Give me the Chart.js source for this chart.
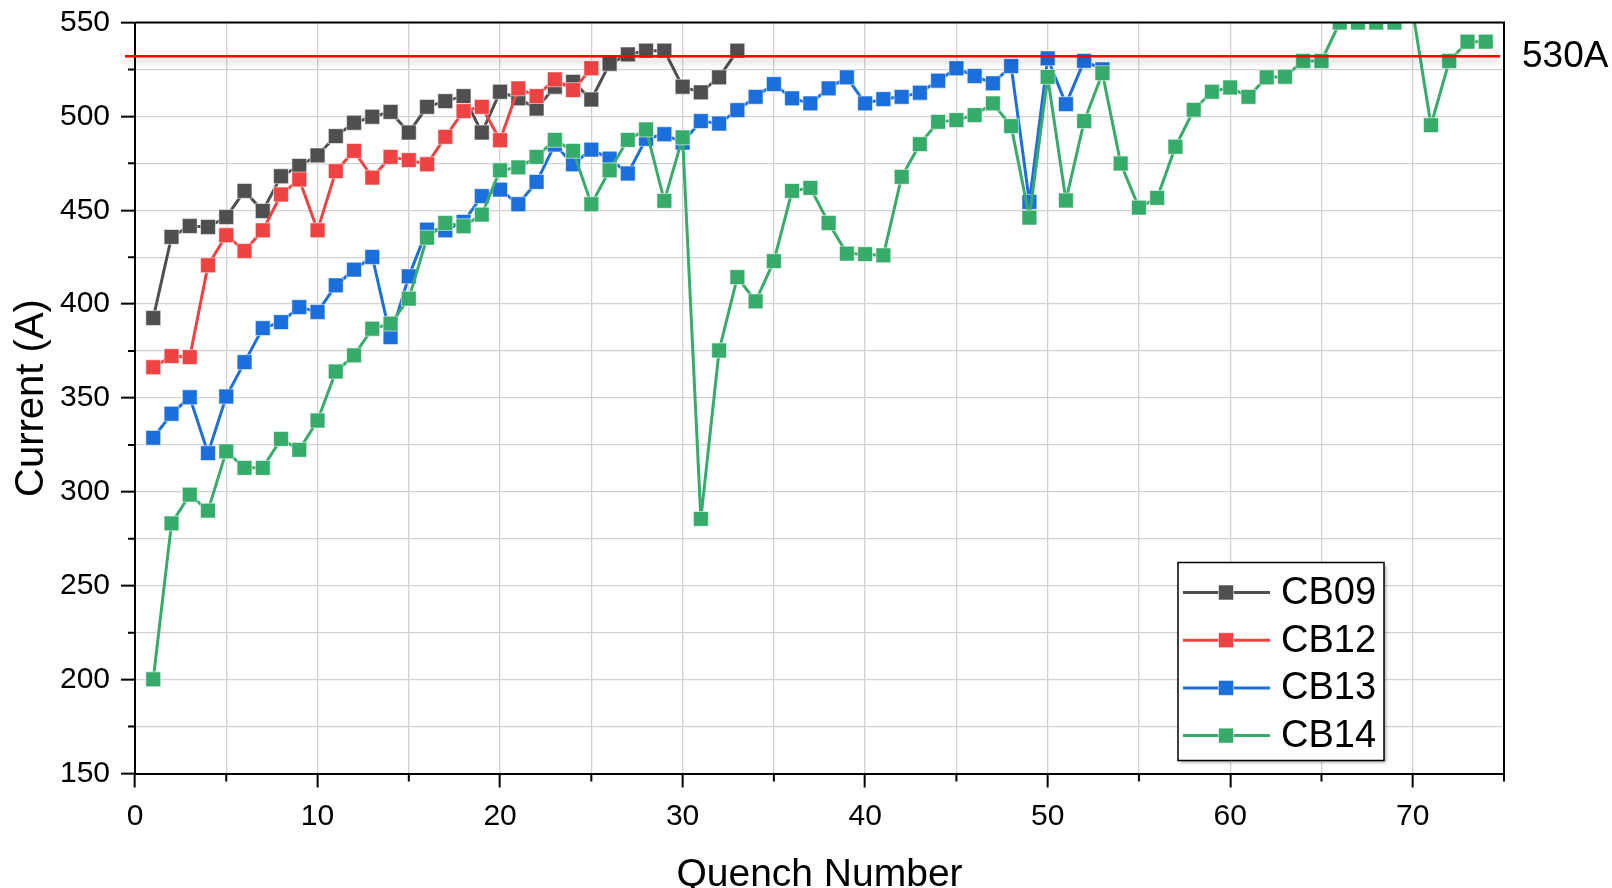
<!DOCTYPE html>
<html><head><meta charset="utf-8">
<script src="https://cdn.jsdelivr.net/npm/chart.js@4.4.0/dist/chart.umd.min.js"></script>
<style>html,body{margin:0;padding:0;background:#fff;overflow:hidden}canvas{display:block}</style>
</head><body>
<canvas id="c" width="1612" height="888"></canvas>
<script>
// ---- data ----
const seriesNames = ['CB09', 'CB12', 'CB13', 'CB14'];
const cb09 = [392.6, 435.8, 441.6, 441.1, 446.4, 460.3, 449.6, 468.1, 473.6, 479.2,
  489.5, 496.6, 499.8, 502.4, 491.4, 505.1, 508.1, 510.8, 491.4, 513.1,
  509.6, 504.2, 515.8, 518.4, 509.0, 528.0, 533.0, 535.0, 535.0, 515.8,
  512.8, 520.8, 535.0];
const cb12 = [366.4, 372.3, 371.8, 420.7, 436.7, 428.3, 439.3, 458.4, 466.4, 439.3,
  470.8, 481.6, 467.4, 478.4, 476.7, 474.5, 489.1, 502.8, 505.1, 487.3,
  514.9, 510.8, 519.7, 514.0, 525.6];
const cb13 = [328.8, 341.6, 350.4, 320.6, 350.8, 369.1, 387.2, 390.4, 398.4, 395.8,
  410.0, 418.4, 425.1, 382.4, 414.8, 439.7, 439.3, 443.8, 457.5, 461.0,
  453.2, 465.1, 485.0, 474.5, 482.3, 477.5, 469.6, 488.0, 490.5, 486.0,
  497.5, 496.2, 503.3, 510.4, 517.2, 509.6, 506.9, 514.9, 520.8, 506.9,
  509.2, 510.4, 512.6, 519.0, 525.6, 521.5, 517.6, 526.8, 454.4, 530.9,
  506.5, 529.6, 525.0];
const cb14 = [200.2, 283.2, 298.5, 290.0, 321.6, 312.8, 312.8, 328.2, 322.4, 338.0,
  364.1, 372.7, 386.9, 389.6, 402.9, 435.4, 443.2, 441.5, 447.7, 471.3,
  472.8, 478.4, 487.5, 481.6, 453.2, 471.3, 487.5, 493.0, 455.0, 488.8,
  285.6, 375.3, 414.4, 401.5, 422.9, 460.3, 461.9, 443.2, 426.9, 426.6,
  426.0, 467.8, 485.2, 497.1, 498.0, 500.7, 506.9, 494.8, 446.1, 521.0,
  455.2, 497.5, 523.0, 474.9, 451.4, 456.6, 483.8, 503.5, 513.1, 515.4,
  510.4, 520.8, 521.1, 529.5, 529.5, 550.0, 550.0, 550.0, 550.0, 556.0,
  495.3, 529.5, 539.8, 539.8];
const seriesValues = [cb09, cb12, cb13, cb14];
const xTickLabels = [0, 10, 20, 30, 40, 50, 60, 70];
const yTickLabels = [150, 200, 250, 300, 350, 400, 450, 500, 550];
const limitValue = 532;
const limitLabel = '530A';
const xTitle = 'Quench Number';
const yTitle = 'Current (A)';

// ---- styles ----
const seriesColors = ['#4f4f4f', '#ef4343', '#1b6fdd', '#37ac6a'];
const FONT = '"Liberation Sans", Arial, sans-serif';

const datasets = seriesNames.map((name, i) => ({
  label: name,
  data: seriesValues[i].map((v, k) => ({x: k + 1, y: v})),
  borderColor: seriesColors[i],
  backgroundColor: seriesColors[i],
  borderWidth: 3,
  pointStyle: 'rect',
  pointRadius: 10.5,
  pointBorderWidth: 1,
  pointBorderColor: 'rgba(255,255,255,0.55)',
  pointBackgroundColor: seriesColors[i],
  tension: 0,
  clip: 0,
  order: seriesNames.length - 1 - i
}));

const decor = {
  id: 'decor',
  afterDatasetsDraw(chart) {
    const ctx = chart.ctx;
    const a = chart.chartArea;
    const xs = chart.scales.x, ys = chart.scales.y;
    // limit line
    const yl = ys.getPixelForValue(limitValue);
    ctx.save();
    ctx.shadowColor = 'rgba(0,0,0,0.28)';
    ctx.shadowBlur = 7;
    ctx.shadowOffsetY = 4;
    ctx.strokeStyle = '#ff0000';
    ctx.lineWidth = 2.5;
    ctx.beginPath();
    ctx.moveTo(a.left - 10, yl);
    ctx.lineTo(a.right - 4, yl);
    ctx.stroke();
    ctx.restore();
    ctx.save();
    ctx.fillStyle = '#000';
    ctx.font = '37px ' + FONT;
    ctx.textAlign = 'left';
    ctx.textBaseline = 'middle';
    ctx.fillText(limitLabel, a.right + 18, yl + 1);
    ctx.restore();
    // frame
    ctx.save();
    ctx.strokeStyle = '#000';
    ctx.lineWidth = 2;
    ctx.beginPath();
    ctx.moveTo(a.left, a.top);
    ctx.lineTo(a.right, a.top);
    ctx.lineTo(a.right, a.bottom);
    ctx.stroke();
    // minor ticks
    ctx.beginPath();
    for (let v = 5; v <= 75; v += 10) {
      const px = xs.getPixelForValue(v);
      ctx.moveTo(px, a.bottom);
      ctx.lineTo(px, a.bottom + 8);
    }
    for (let v = 175; v <= 525; v += 50) {
      const py = ys.getPixelForValue(v);
      ctx.moveTo(a.left, py);
      ctx.lineTo(a.left - 7, py);
    }
    ctx.stroke();
    ctx.restore();
    // legend
    const bx = a.right - 326, by = a.bottom - 211, bw = 206, bh = 198;
    ctx.save();
    ctx.shadowColor = 'rgba(0,0,0,0.35)';
    ctx.shadowBlur = 3;
    ctx.shadowOffsetX = 2;
    ctx.shadowOffsetY = 2;
    ctx.fillStyle = '#fff';
    ctx.fillRect(bx, by, bw, bh);
    ctx.restore();
    ctx.save();
    ctx.strokeStyle = '#000';
    ctx.lineWidth = 1.5;
    ctx.strokeRect(bx, by, bw, bh);
    chart.data.datasets.forEach((ds, i) => {
      const ry = by + 30 + i * 47.7;
      ctx.strokeStyle = ds.borderColor;
      ctx.lineWidth = 3;
      ctx.beginPath();
      ctx.moveTo(bx + 5, ry);
      ctx.lineTo(bx + 92, ry);
      ctx.stroke();
      ctx.fillStyle = ds.borderColor;
      ctx.fillRect(bx + 48 - 7.5, ry - 7.5, 15, 15);
      ctx.strokeStyle = 'rgba(255,255,255,0.55)';
      ctx.lineWidth = 1;
      ctx.strokeRect(bx + 48 - 7.5, ry - 7.5, 15, 15);
      ctx.fillStyle = '#000';
      ctx.font = '38px ' + FONT;
      ctx.textAlign = 'left';
      ctx.textBaseline = 'middle';
      ctx.fillText(ds.label, bx + 103, ry + 1);
    });
    ctx.restore();
  }
};

new Chart(document.getElementById('c'), {
  type: 'line',
  data: {datasets},
  plugins: [decor],
  options: {
    responsive: false,
    animation: false,
    events: [],
    layout: {padding: {top: 22.5, right: 108, bottom: 0, left: 0}},
    plugins: {legend: {display: false}, tooltip: {enabled: false}},
    scales: {
      x: {
        type: 'linear', min: 0, max: 75,
        afterFit(s) { s.height = 114.5; s.paddingLeft = 0; s.paddingRight = 0; },
        ticks: {
          stepSize: 5, padding: 11, color: '#000', maxRotation: 0, autoSkip: false,
          font: {family: FONT, size: 30},
          callback: v => xTickLabels.includes(v) ? String(v) : ''
        },
        grid: {
          color: '#d2d2d2', lineWidth: 1.3, tickLength: 14, tickWidth: 2,
          tickColor: c => (c.tick && xTickLabels.includes(c.tick.value)) ? '#000' : 'rgba(0,0,0,0)'
        },
        border: {display: true, color: '#000', width: 2},
        title: {display: true, text: xTitle, color: '#000', padding: 0,
          font: {family: FONT, size: 39, lineHeight: 0.65}}
      },
      y: {
        type: 'linear', min: 150, max: 550,
        afterFit(s) { s.width = 135; s.paddingTop = 0; s.paddingBottom = 0; },
        ticks: {
          stepSize: 25, padding: 11, color: '#000', autoSkip: false,
          font: {family: FONT, size: 30},
          callback: v => yTickLabels.includes(v) ? String(v) : ''
        },
        grid: {
          color: '#d2d2d2', lineWidth: 1.3, tickLength: 14, tickWidth: 2,
          tickColor: c => (c.tick && yTickLabels.includes(c.tick.value)) ? '#000' : 'rgba(0,0,0,0)'
        },
        border: {display: true, color: '#000', width: 2},
        title: {display: true, text: yTitle, color: '#000', padding: {top: 12, bottom: 0},
          font: {family: FONT, size: 40, lineHeight: 1}}
      }
    }
  }
});
</script>
</body></html>
